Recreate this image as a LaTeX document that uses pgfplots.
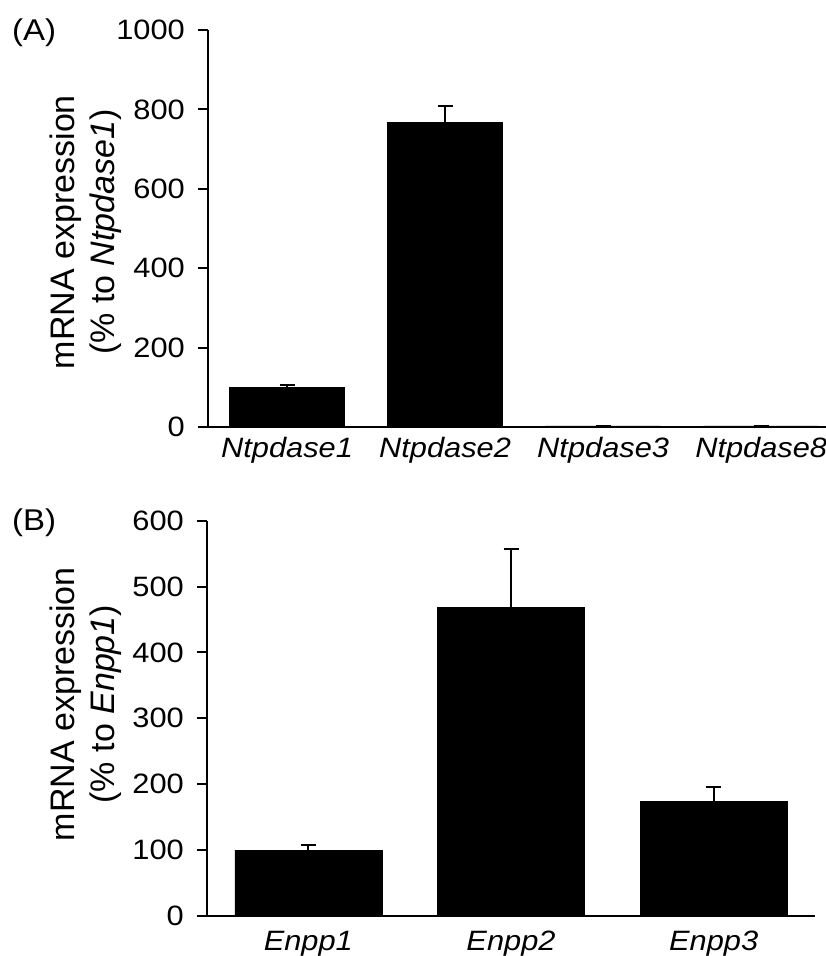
\documentclass[border=0pt]{standalone}
\usepackage{fontspec}
\setmainfont{Liberation Sans}
\newfontfamily\tickfont{Liberation Sans}[FakeStretch=1.1]
\usepackage{pgfplots}
\pgfplotsset{compat=1.18}
\pgfplotsset{
  mystyle/.style={
    scale only axis,
    axis lines=left,
    axis line style={-, line width=2pt, black},
    ymin=0, xmin=-0.5,
    xtick=data,
    x tick style={draw=none},
    tick align=outside,
    y tick style={line width=2pt, black},
    major tick length=10pt,
    clip=false,
    /pgf/number format/assume math mode=true,
    /pgf/number format/1000 sep={},
    yticklabel style={font=\tickfont\fontsize{28}{28}\selectfont, inner sep=0pt, xshift=-13pt},
    xticklabel style={font=\tickfont\itshape\fontsize{28}{28}\selectfont, inner sep=0pt, anchor=north},
    ylabel style={rotate=0, anchor=north, inner sep=0pt, align=center, font=\fontsize{34}{40}\selectfont},
  },
  mybar/.style={
    ybar, fill=black, draw=black, bar shift=0pt,
    error bars/.cd, y dir=plus, y explicit,
    error bar style={line width=2pt, black},
    error mark options={rotate=90, mark size=7.5pt, line width=2pt, black},
    /pgfplots/.cd,
  }
}
\pgfplotstableread{
x y e
0 100 7
1 768 41
2 3 0
3 3 0
}\tableA
\pgfplotstableread{
x y e
0 100 8
1 468 89
2 173.5 22
}\tableB
\begin{document}
\begin{tikzpicture}
\path[use as bounding box] (0,0) rectangle (826pt,956pt);
% Panel A
\begin{axis}[mystyle,
  at={(208pt,529pt)}, anchor=south west,
  width=618pt, height=397pt,
  xmax=3.41, ymax=1000,
  ytick={0,200,400,600,800,1000},
  xticklabels={Ntpdase1,Ntpdase2,Ntpdase3,Ntpdase8},
  xticklabel style={yshift=0pt},
  ylabel={mRNA expression\\(\% to \textit{Ntpdase1})},
  ylabel style={at={(axis description cs:-0.256,0.491)}},
]
\addplot[bar width=115pt, mybar] table[x=x, y=y, y error=e] {\tableA};
\end{axis}
% Panel B
\begin{axis}[mystyle,
  at={(207pt,40pt)}, anchor=south west,
  width=608pt, height=395.3pt,
  xmax=2.5, ymax=600,
  ytick={0,100,200,300,400,500,600},
  xticklabels={Enpp1,Enpp2,Enpp3},
  xticklabel style={yshift=-5pt},
  ylabel={mRNA expression\\(\% to \textit{Enpp1})},
  ylabel style={at={(axis description cs:-0.258,0.536)}},
]
\addplot[bar width=147pt, mybar] table[x=x, y=y, y error=e] {\tableB};
\end{axis}
\node[anchor=west, inner sep=0pt, font=\tickfont\fontsize{30}{30}\selectfont] at (12pt,923pt) {(A)};
\node[anchor=west, inner sep=0pt, font=\tickfont\fontsize{30}{30}\selectfont] at (12pt,433pt) {(B)};
\end{tikzpicture}
\end{document}
